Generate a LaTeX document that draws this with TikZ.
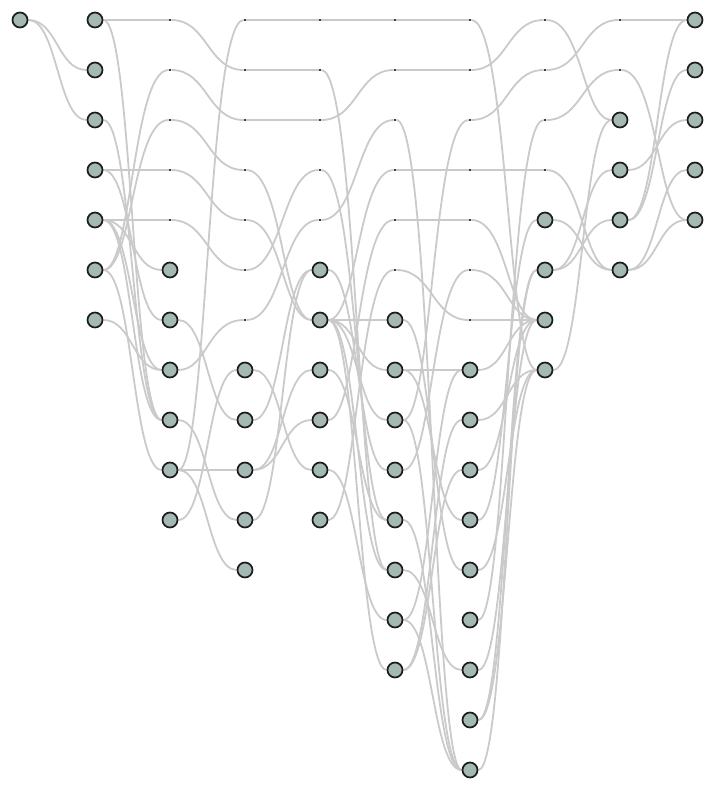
\documentclass[tikz,border=0pt]{standalone}
\usepackage{xcolor}
\usepackage{tikz}
\usetikzlibrary{backgrounds}
\definecolor{NodeFill}{HTML}{A5B9B4}
\definecolor{NodeLine}{HTML}{1C1C1C}
\definecolor{EdgeGray}{HTML}{CACACA}
\definecolor{DummyDot}{HTML}{404040}

\tikzset{
  vertex/.style={circle, draw=NodeLine, fill=NodeFill, line width=1.7pt,
                 minimum size=15pt, inner sep=0pt},
  dummy/.style={rectangle, fill=DummyDot, minimum width=2.4pt,
                minimum height=1.8pt, inner sep=0pt},
  link/.style={draw=EdgeGray, line width=1.8pt}
}

\begin{document}
\begin{tikzpicture}[x=1pt, y=-1pt]
  \useasboundingbox (0,0) rectangle (715,790);

  % layers: real nodes, then the dummy points of long edges
  \foreach \col/\x/\from/\to in {a/20/0/0, b/95/0/6, c/170/5/10, d/245/7/11,
      e/320/5/10, f/395/6/13, g/470/7/15, h/545/4/7, i/620/2/5, j/695/0/4}
    \foreach \r in {\from,...,\to}
      \node[vertex] (\col\r) at (\x,20+50*\r) {};
  \foreach \col/\x/\to in {c/170/4, d/245/6, e/320/4, f/395/5, g/470/6,
      h/545/3, i/620/1}
    \foreach \r in {0,...,\to}
      \node[dummy] (\col\r) at (\x,20+50*\r) {};

  \begin{scope}[on background layer]
    \foreach \s/\t in {a0/b1, a0/b2,
        b0/c0, b0/c8, b2/c8, b3/c3, b3/c6, b4/c4, b4/c5, b4/c7, b4/c8,
        b5/c1, b5/c2, b5/c9, b6/c7,
        c0/d1, c1/d2, c2/d3, c3/d4, c4/d5, c6/d8, c7/d6, c8/d10,
        c9/d0, c9/d9, c9/d11, c10/d7,
        d0/e0, d1/e1, d2/e2, d3/e6, d4/e6, d5/e3, d6/e4, d7/e9,
        d8/e5, d9/e7, d9/e8, d10/e5,
        e0/f0, e1/f11, e2/f1, e3/f10, e4/f2, e5/f9, e6/f3, e6/f6, e6/f7,
        e6/f8, e6/f11, e6/f13, e7/f10, e8/f4, e9/f12, e10/f5,
        f0/g0, f1/g1, f2/g15, f3/g3, f4/g4, f5/g6, f6/g11, f7/g7, f7/g10,
        f8/g2, f8/g15, f9/g5, f10/g15, f11/g13, f12/g7, f12/g15,
        f13/g8, f13/g9,
        g0/h7, g1/h0, g2/h1, g3/h3, g4/h6, g5/h6, g6/h6, g7/h6, g8/h7,
        g9/h6, g10/h4, g11/h7, g12/h2, g13/h6, g14/h5, g14/h7, g15/h5,
        h0/i2, h1/i0, h2/i1, h3/i5, h4/i5, h5/i3, h5/i4, h7/i2,
        i0/j0, i1/j4, i3/j2, i4/j0, i4/j1, i5/j3, i5/j4}
      \draw[link] (\s) .. controls +(37.5,0) and +(-37.5,0) .. (\t);
  \end{scope}
\end{tikzpicture}
\end{document}
